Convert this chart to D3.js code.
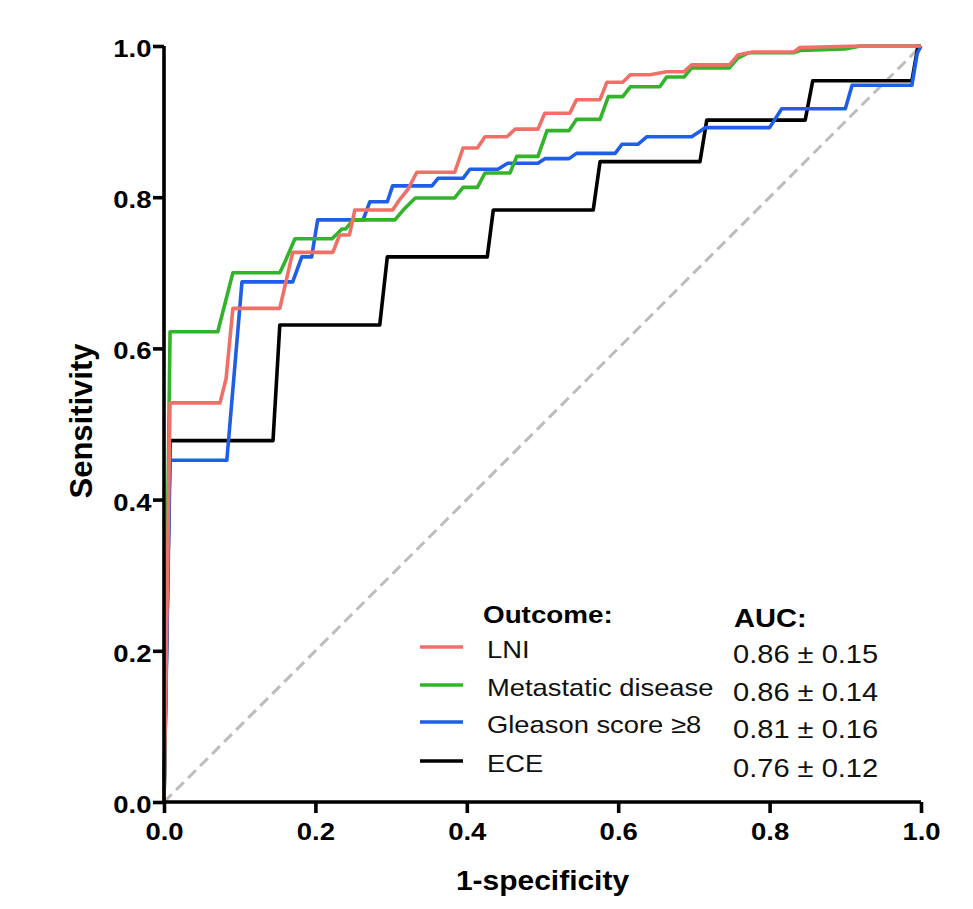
<!DOCTYPE html>
<html><head><meta charset="utf-8">
<script src="https://cdn.jsdelivr.net/npm/d3@7"></script>
<style>body{margin:0;background:#fff}svg{display:block}text{font-family:"Liberation Sans",Arial,sans-serif}</style>
</head><body><svg id="c" width="973" height="909"></svg>
<script>
const xTicks = [0, 0.2, 0.4, 0.6, 0.8, 1.0];
const yTicks = [0, 0.2, 0.4, 0.6, 0.8, 1.0];
const seriesNames = ["LNI", "Metastatic disease", "Gleason score \u22658", "ECE"];
const aucLabels = ["0.86 \u00b1 0.15", "0.86 \u00b1 0.14", "0.81 \u00b1 0.16", "0.76 \u00b1 0.12"];
const seriesColors = ["#f07068", "#32b42a", "#1f5ee6", "#000000"];

const lniFpr = [0, 0.008, 0.074, 0.082, 0.091, 0.153, 0.170, 0.223, 0.232, 0.245, 0.252, 0.302, 0.310, 0.322, 0.334, 0.384, 0.395, 0.414, 0.424, 0.453, 0.464, 0.494, 0.503, 0.536, 0.545, 0.576, 0.585, 0.606, 0.616, 0.642, 0.664, 0.687, 0.697, 0.747, 0.758, 0.778, 0.832, 0.840, 0.920, 1.0];
const lniTpr = [0, 0.528, 0.528, 0.560, 0.653, 0.653, 0.727, 0.727, 0.750, 0.750, 0.783, 0.783, 0.795, 0.810, 0.833, 0.833, 0.865, 0.865, 0.880, 0.880, 0.890, 0.890, 0.911, 0.911, 0.929, 0.929, 0.952, 0.952, 0.962, 0.962, 0.966, 0.966, 0.975, 0.975, 0.988, 0.992, 0.992, 0.998, 1.0, 1.0];

const metFpr = [0, 0.008, 0.071, 0.091, 0.153, 0.160, 0.173, 0.222, 0.235, 0.240, 0.250, 0.305, 0.316, 0.332, 0.384, 0.395, 0.414, 0.424, 0.457, 0.466, 0.494, 0.506, 0.535, 0.545, 0.576, 0.587, 0.606, 0.616, 0.655, 0.664, 0.687, 0.697, 0.747, 0.758, 0.772, 0.832, 0.840, 0.900, 0.920, 1.0];
const metTpr = [0, 0.622, 0.622, 0.700, 0.700, 0.715, 0.745, 0.745, 0.758, 0.758, 0.770, 0.770, 0.783, 0.799, 0.799, 0.813, 0.813, 0.832, 0.832, 0.854, 0.854, 0.888, 0.888, 0.903, 0.903, 0.933, 0.933, 0.946, 0.946, 0.959, 0.959, 0.971, 0.971, 0.984, 0.991, 0.991, 0.994, 0.996, 1.0, 1.0];

const glsFpr = [0, 0.008, 0.083, 0.103, 0.170, 0.182, 0.195, 0.203, 0.263, 0.272, 0.295, 0.302, 0.354, 0.362, 0.395, 0.404, 0.441, 0.454, 0.494, 0.503, 0.535, 0.545, 0.596, 0.605, 0.626, 0.638, 0.697, 0.715, 0.800, 0.816, 0.900, 0.909, 0.988, 0.995, 1.0];
const glsTpr = [0, 0.452, 0.452, 0.688, 0.688, 0.721, 0.721, 0.770, 0.770, 0.794, 0.794, 0.815, 0.815, 0.825, 0.825, 0.837, 0.837, 0.845, 0.845, 0.851, 0.851, 0.858, 0.858, 0.870, 0.870, 0.880, 0.880, 0.892, 0.892, 0.917, 0.917, 0.948, 0.948, 0.990, 1.0];

const eceFpr = [0, 0.008, 0.144, 0.153, 0.285, 0.295, 0.427, 0.435, 0.567, 0.576, 0.708, 0.717, 0.847, 0.857, 0.988, 0.996, 1.0];
const eceTpr = [0, 0.478, 0.478, 0.631, 0.631, 0.721, 0.721, 0.783, 0.783, 0.847, 0.847, 0.902, 0.902, 0.954, 0.954, 1.0, 1.0];

const svg = d3.select("#c");
const m = {l:164, r:52, t:46, b:107};
const W = 973, H = 909;
const x = d3.scaleLinear().domain([0,1]).range([m.l, W - m.r]);
const y = d3.scaleLinear().domain([0,1]).range([H - m.b, m.t]);

const series = [
  {fpr: eceFpr, tpr: eceTpr, c: seriesColors[3]},
  {fpr: glsFpr, tpr: glsTpr, c: seriesColors[2]},
  {fpr: metFpr, tpr: metTpr, c: seriesColors[1]},
  {fpr: lniFpr, tpr: lniTpr, c: seriesColors[0]}
];

function stext(g, tx, ty, str, size, opts) {
  opts = opts || {};
  return g.append("text")
    .attr("transform", `translate(${tx},${ty}) scale(${opts.sx || 1.14},1)`)
    .attr("text-anchor", opts.anchor || "start")
    .style("font-size", size + "px")
    .style("font-weight", opts.bold ? "bold" : "normal")
    .attr("fill", opts.fill || "#000")
    .text(str);
}

svg.append("path")
  .attr("d", d3.line()([[x(0), y(0)], [x(1), y(1)]]))
  .attr("stroke", "#bdbdbd").attr("stroke-width", 3)
  .attr("stroke-dasharray", "11,6").attr("fill", "none");

const line = d3.line().x(d => x(d[0])).y(d => y(d[1]));
series.forEach(s => {
  const pts = s.fpr.map((v, i) => [v, s.tpr[i]]);
  svg.append("path").attr("d", line(pts))
    .attr("fill", "none").attr("stroke", s.c).attr("stroke-width", 3.6)
    .attr("stroke-linejoin", "round");
});

const xAxis = svg.append("g").attr("transform", `translate(0,${H - m.b})`)
  .call(d3.axisBottom(x).tickValues(xTicks).tickFormat(d3.format(".1f")).tickSize(11));
const yAxis = svg.append("g").attr("transform", `translate(${m.l},0)`)
  .call(d3.axisLeft(y).tickValues(yTicks).tickFormat(d3.format(".1f")).tickSize(11));
[xAxis, yAxis].forEach(a => {
  a.select(".domain").attr("stroke", "#000").attr("stroke-width", 3.6);
  a.selectAll(".tick line").attr("stroke", "#000").attr("stroke-width", 3.6);
  a.selectAll(".tick text").attr("fill", "#000").style("font-size", "23.5px").style("font-weight", "bold")
    .style("font-family", "'Liberation Sans', Arial, sans-serif").attr("dy", null);
});
xAxis.selectAll(".tick text").attr("y", null).attr("transform", "translate(0,38) scale(1.17,1)");
yAxis.selectAll(".tick text").attr("x", null).attr("transform", "translate(-12.5,10.5) scale(1.17,1)");
xAxis.select(".domain").attr("d", `M${x(0)},0H${x(1)}`);
yAxis.select(".domain").attr("d", `M0,${y(0)}V${y(1)}`);

stext(svg, (x(0) + x(1)) / 2, 890, "1-specificity", 27, {bold: true, anchor: "middle", sx: 1.11});
svg.append("text").attr("transform", `translate(92,421) rotate(-90)`).attr("text-anchor", "middle")
  .style("font-size", "31px").style("font-weight", "bold").text("Sensitivity");

const lg = svg.append("g");
stext(lg, 483, 623, "Outcome:", 24.4, {bold: true});
stext(lg, 734, 627, "AUC:", 25.5, {bold: true});
const rowsY = [658, 696, 733, 772];
const lineY = [647, 685, 722, 761];
seriesNames.forEach((n, i) => {
  lg.append("line").attr("x1", 420).attr("x2", 463).attr("y1", lineY[i]).attr("y2", lineY[i])
    .attr("stroke", seriesColors[i]).attr("stroke-width", 3.6);
  stext(lg, 487, rowsY[i], n, 24, {fill: "#111"});
  stext(lg, 733, rowsY[i] + 5, aucLabels[i], 25.5, {fill: "#111"});
});
</script></body></html>
